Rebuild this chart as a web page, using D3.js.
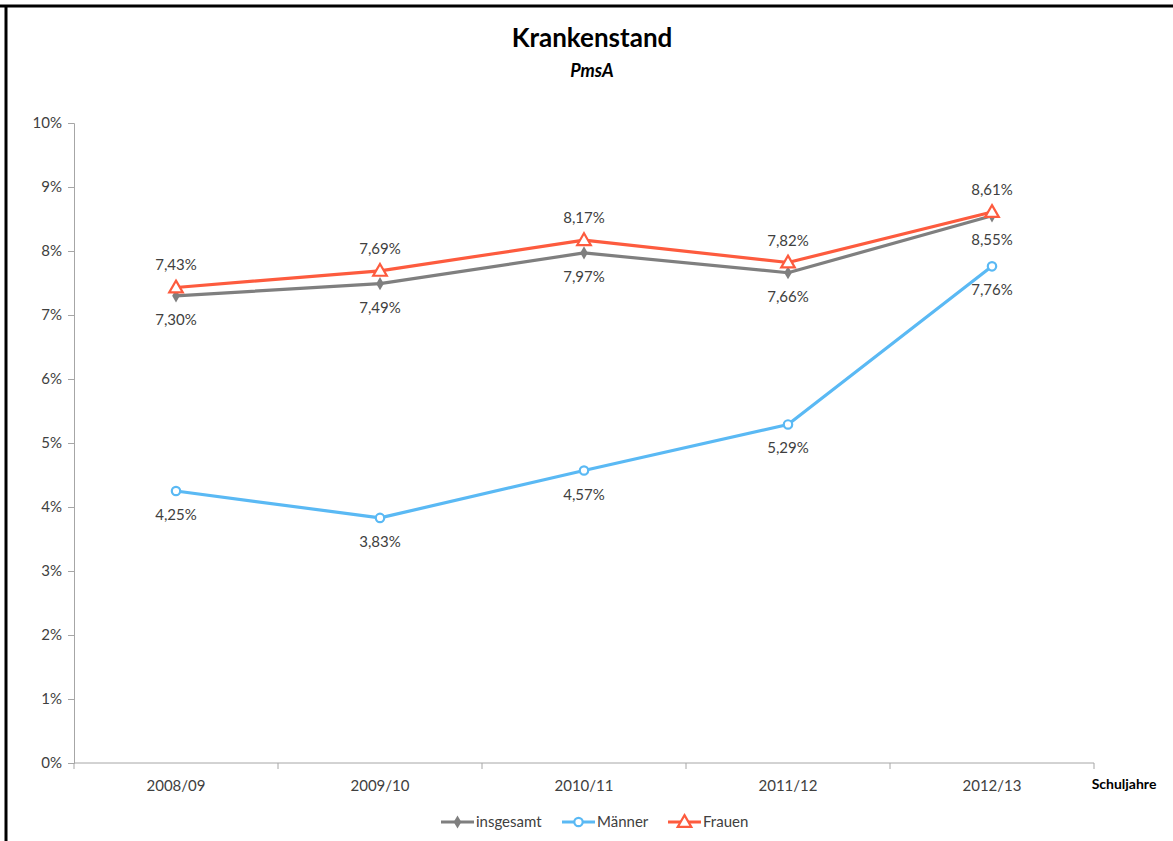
<!DOCTYPE html>
<html>
<head>
<meta charset="utf-8">
<script src="https://cdn.jsdelivr.net/npm/d3@7"></script>
<style>
  body { margin: 0; background: #fff; }
  svg { font-family: Lato, "Open Sans", sans-serif; }
</style>
</head>
<body>
<div class="chart"></div>
<script>
// chart data
const years = ["2008/09", "2009/10", "2010/11", "2011/12", "2012/13"];
const insgesamt = [7.30, 7.49, 7.97, 7.66, 8.55];
const maenner = [4.25, 3.83, 4.57, 5.29, 7.76];
const frauen = [7.43, 7.69, 8.17, 7.82, 8.61];
const yTicks = [0, 1, 2, 3, 4, 5, 6, 7, 8, 9, 10];

const series = [
    { name: "insgesamt", values: insgesamt, color: "#7f7f7f", marker: "diamond", labelPos: "below" },
    { name: "Männer", values: maenner, color: "#5ab9f4", marker: "circle", labelPos: "below" },
    { name: "Frauen", values: frauen, color: "#fd5b3e", marker: "triangle", labelPos: "above" }
];

const W = 1173, H = 841;
const margin = { top: 123, right: 79, bottom: 78, left: 74 };
const width = W - margin.left - margin.right;
const height = H - margin.top - margin.bottom;

const root = d3.select(".chart").append("svg")
    .attr("width", W)
    .attr("height", H);

// frame lines top and left
root.append("line").attr("x1", 0).attr("x2", W).attr("y1", 6).attr("y2", 6)
    .attr("stroke", "#000").attr("stroke-width", 3);
root.append("line").attr("x1", 6).attr("x2", 6).attr("y1", 5).attr("y2", H)
    .attr("stroke", "#000").attr("stroke-width", 3);

// titles
root.append("text")
    .attr("x", 592).attr("y", 47)
    .attr("text-anchor", "middle")
    .style("font-size", "26px").style("font-weight", "bold")
    .text("Krankenstand");
root.append("text")
    .attr("x", 592).attr("y", 77)
    .attr("text-anchor", "middle")
    .style("font-size", "18px").style("font-weight", "bold").style("font-style", "italic")
    .text("PmsA");

const svg = root.append("g")
    .attr("transform", `translate(${margin.left}, ${margin.top})`);

const xBand = d3.scaleBand().domain(years).range([0, width]);
const x = d => xBand(d) + xBand.bandwidth() / 2;
const y = d3.scaleLinear().domain([0, 10]).range([height, 0]);

// y axis
const yAxis = svg.append("g")
    .call(d3.axisLeft(y).tickValues(yTicks).tickFormat(d => d + "%").tickSizeOuter(0).tickSize(6));
yAxis.select(".domain").attr("stroke", "#a6a6a6");
yAxis.selectAll(".tick line").attr("stroke", "#a6a6a6");
yAxis.selectAll(".tick text").attr("x", -12).attr("fill", "#404040")
    .style("font-size", "15px").style("font-family", "Lato, sans-serif");

// x axis with ticks on category boundaries
const xAxis = svg.append("g").attr("transform", `translate(0, ${height})`);
xAxis.append("line").attr("x1", 0).attr("x2", width).attr("stroke", "#a6a6a6");
const bounds = years.map(d => xBand(d)).concat([width]);
xAxis.selectAll(".xt").data(bounds).enter().append("line")
    .attr("x1", d => d).attr("x2", d => d).attr("y1", 0).attr("y2", 6)
    .attr("stroke", "#a6a6a6");
xAxis.selectAll(".xl").data(years).enter().append("text")
    .attr("x", d => x(d)).attr("y", 28)
    .attr("text-anchor", "middle").attr("fill", "#404040")
    .style("font-size", "15px")
    .text(d => d);

svg.append("text")
    .attr("x", width + 30).attr("y", height + 26)
    .attr("text-anchor", "middle")
    .style("font-size", "14px").style("font-weight", "bold")
    .text("Schuljahre");

const line = d3.line().x((d, i) => x(years[i])).y(d => y(d));

function drawMarker(g, type, color, cx, cy) {
    if (type === "diamond") {
        g.append("path").attr("d", d3.symbol().type(d3.symbolDiamond).size(50)())
            .attr("transform", `translate(${cx},${cy})`).attr("fill", color);
    } else if (type === "circle") {
        g.append("circle").attr("cx", cx).attr("cy", cy).attr("r", 4.2)
            .attr("fill", "#fff").attr("stroke", color).attr("stroke-width", 2.2);
    } else {
        g.append("path").attr("d", d3.symbol().type(d3.symbolTriangle).size(80)())
            .attr("transform", `translate(${cx},${cy + 1})`)
            .attr("fill", "#fff").attr("stroke", color).attr("stroke-width", 2.2);
    }
}

series.forEach(s => {
    const g = svg.append("g");
    g.append("path").datum(s.values)
        .attr("d", line).attr("fill", "none")
        .attr("stroke", s.color).attr("stroke-width", 3.2)
        .attr("stroke-linejoin", "round");
    s.values.forEach((v, i) => drawMarker(g, s.marker, s.color, x(years[i]), y(v)));
    g.selectAll(".lbl").data(s.values).enter().append("text")
        .attr("x", (d, i) => x(years[i]))
        .attr("y", d => y(d) + (s.labelPos === "above" ? -17 : 29))
        .attr("text-anchor", "middle").attr("fill", "#404040")
        .style("font-size", "15px")
        .text(d => d.toFixed(2).replace(".", ",") + "%");
});

// legend
const legend = root.append("g").attr("transform", "translate(0, 822)");
const legX = [441, 562, 668];
series.forEach((s, i) => {
    const g = legend.append("g").attr("transform", `translate(${legX[i]}, 0)`);
    g.append("line").attr("x1", 0).attr("x2", 33).attr("y1", 0).attr("y2", 0)
        .attr("stroke", s.color).attr("stroke-width", 3.2);
    drawMarker(g, s.marker, s.color, 16.5, 0);
    g.append("text").attr("x", 35).attr("y", 5)
        .attr("fill", "#404040").style("font-size", "15px")
        .text(s.name);
});
</script>
</body>
</html>
